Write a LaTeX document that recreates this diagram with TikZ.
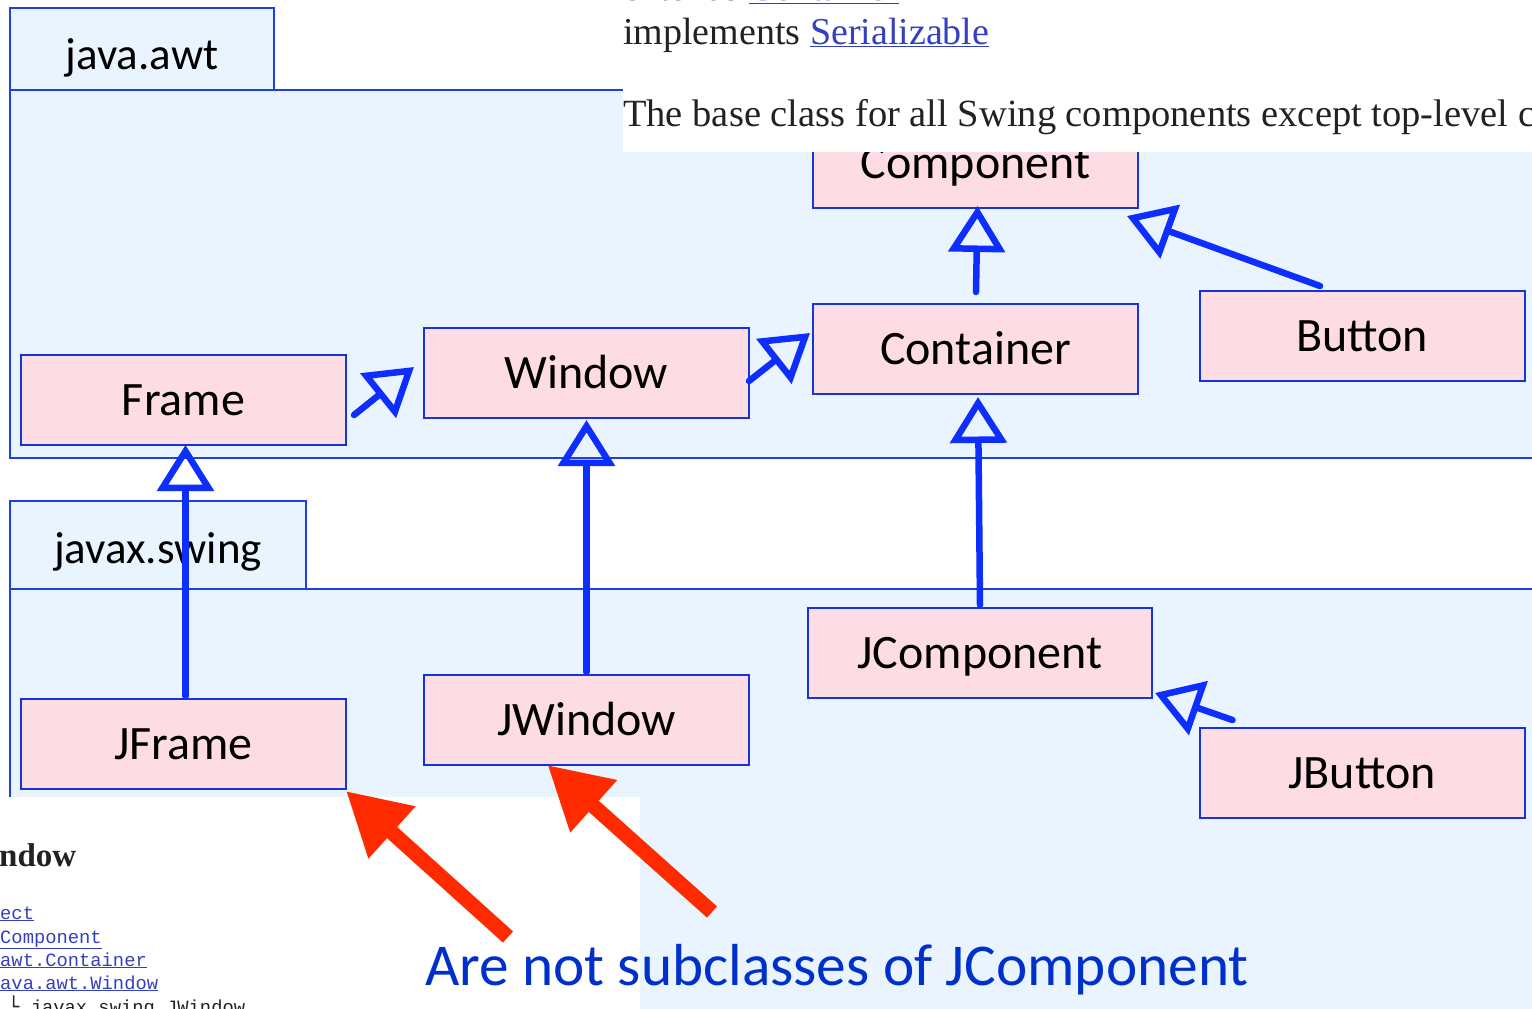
\documentclass[tikz,border=0pt]{standalone}
\usepackage{fontspec}
\setmainfont{Carlito}
\newfontfamily\docserif{Liberation Serif}
\newfontfamily\docmono{Liberation Mono}
\newfontfamily\docmonob{DejaVu Sans Mono}
\usetikzlibrary{arrows.meta,calc}
\definecolor{pkgfill}{HTML}{EAF4FE}
\definecolor{pkgline}{HTML}{1B42E0}
\definecolor{boxfill}{HTML}{FEDCE3}
\definecolor{boxline}{HTML}{1535DC}
\definecolor{arrowblue}{HTML}{0D2EFF}
\definecolor{notered}{HTML}{FF2A00}
\definecolor{captionblue}{HTML}{0030CC}
\definecolor{linkblue}{HTML}{3440C0}
\definecolor{doctext}{HTML}{222222}
\tikzset{
  pkg/.style={draw=pkgline, fill=pkgfill, line width=1.8pt},
  pkglabel/.style={anchor=base, inner sep=0pt, font=\fontsize{45}{54}\selectfont},
  cls/.style={draw=boxline, fill=boxfill, line width=2pt, minimum width=325pt,
    minimum height=90pt, inner sep=0pt, font=\fontsize{48}{56}\selectfont,
    text height=31pt, text depth=0pt},
  inh/.style={draw=arrowblue, line width=6.5pt, line cap=round,
    -{Triangle[open,length=46pt,width=56pt]}},
  notearrow/.style={draw=notered, line width=15pt,
    -{Triangle[length=62pt,width=66pt]}},
  docline/.style={anchor=base west, inner sep=0pt, text=doctext,
    font=\docserif\fontsize{38}{44}\selectfont},
  treeline/.style={anchor=base west, inner sep=0pt, text=linkblue,
    font=\docmono\fontsize{18.8}{22}\selectfont},
  whitepatch/.style={fill=white, draw=none}
}
\begin{document}
\begin{tikzpicture}[x=1pt,y=-1pt]
\useasboundingbox (0,0) rectangle (1532,1009);
\clip (0,0) rectangle (1532,1009);
\fill[white] (0,0) rectangle (1532,1009);

% packages
\path[pkg] (10,90) rectangle (1545,458);
\path[pkg] (10,8) rectangle (274,90);
\node[pkglabel] (awtlabel) at (142,69) {java.awt};
\path[pkg] (10,589) rectangle (1545,1020);
\path[pkg] (10,501) rectangle (306,589);
\node[pkglabel] (swinglabel) at (158,563) {javax.swing};

% classes
\node[cls] (Component) at (975.5,163) {Component};
\node[cls] (Container) at (975.5,349) {Container};
\node[cls] (Window) at (586.5,373) {Window};
\node[cls] (Frame) at (183.5,400) {Frame};
\node[cls] (Button) at (1362,336) {Button};
\node[cls] (JFrame) at (183.5,744) {JFrame};
\node[cls] (JWindow) at (586.5,720) {JWindow};
\node[cls, minimum width=344pt] (JComponent) at (980,653) {JComponent};
\node[cls] (JButton) at (1362,773) {JButton};

% inheritance arrows
\draw[inh] ($(Frame.east)+(7,15)$) -- ($(Window.west)+(-9,-6)$);
\draw[inh] ($(Window.east)+(-1,8)$) -- ($(Container.west)+(-2,-16)$);
\draw[inh] ($(Container.north)+(0.5,-11)$) -- ($(Component.south)+(2,-3)$);
\draw[inh] ($(Button.north)+(-42,-4)$) -- ($(Component.south east)+(-12,7)$);
\draw[inh] ($(JFrame.north)+(2,-2)$) -- ($(Frame.south)+(2,-1)$);
\draw[inh] ($(JWindow.north)+(0,-2)$) -- ($(Window.south)+(0,1)$);
\draw[inh] ($(JComponent.north)+(0,-2)$) -- ($(Container.south)+(2.5,2)$);
\draw[inh] ($(JButton.north west)+(34,-7)$) -- ($(JComponent.south east)+(2,-6)$);

% screenshot fragment, top right
\path[whitepatch] (623,-5) rectangle (1545,152);
\node[docline] (ext) at (623,1) {extends \textcolor{linkblue}{\underline{Container}}};
\node[docline] (impl) at (623,44) {implements \textcolor{linkblue}{\underline{Serializable}}};
\node[docline, font=\docserif\fontsize{38.5}{44}\selectfont] (base) at (623,126) {The base class for all Swing components except top-level c};

% screenshot fragment, bottom left
\path[whitepatch] (-5,797) rectangle (640,1020);
\node[anchor=base west, inner sep=0pt, text=doctext,
  font=\docserif\bfseries\fontsize{33}{40}\selectfont] (ndow) at (-1,866) {ndow};
\node[treeline] (t1) at (0,919) {\underline{ect}};
\node[treeline] (t2) at (0,943) {\underline{Component}};
\node[treeline] (t3) at (0,966) {\underline{awt.Container}};
\node[treeline] (t4) at (0,989) {\underline{ava.awt.Window}};
\node[treeline, text=doctext] (t5) at (8,1013) {{\docmonob └}\ javax.swing.JWindow};

% red notes
\coordinate (r1) at (508,937);
\coordinate (r2) at (712,912);
\draw[notearrow] (r1) -- ($(JFrame.south east)+(-1,1)$);
\draw[notearrow] (r2) -- ($(JWindow.south)+(-39,-1)$);

\node[anchor=base west, inner sep=0pt, text=captionblue,
  font=\fontsize{59.3}{66}\selectfont] (caption) at (425,985) {Are not subclasses of JComponent};
\end{tikzpicture}
\end{document}
